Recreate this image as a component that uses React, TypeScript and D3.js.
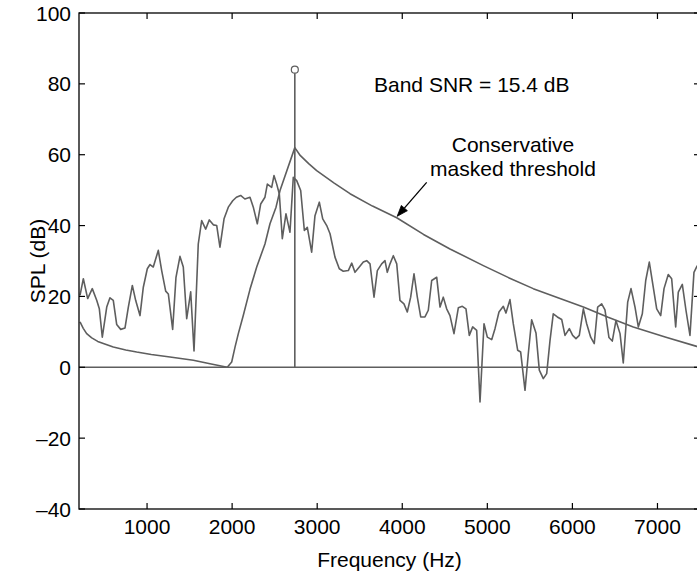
import React from 'react';
import * as d3 from 'd3';

const signalHz = [212,251,302,356,408,439,474,526,564,603,643,690,741,780,827,866,917,956,1003,1035,1073,1132,1172,1219,1250,1301,1340,1387,1426,1466,1513,1552,1602,1642,1689,1732,1779,1819,1857,1905,1955,2007,2050,2100,2150,2210,2249,2296,2336,2386,2414,2465,2492,2524,2555,2590,2633,2680,2719,2759,2806,2849,2884,2935,2974,3025,3065,3112,3151,3209,3260,3307,3366,3406,3444,3495,3542,3582,3621,3668,3707,3758,3797,3824,3856,3895,3935,3973,4020,4059,4099,4138,4177,4217,4267,4306,4346,4405,4444,4482,4522,4561,4608,4659,4706,4749,4788,4828,4875,4914,4961,5000,5051,5090,5137,5188,5219,5266,5305,5357,5392,5443,5482,5521,5572,5611,5658,5698,5737,5775,5823,5874,5913,5964,6003,6042,6081,6129,6168,6215,6257,6297,6344,6383,6430,6469,6512,6560,6598,6650,6689,6736,6775,6822,6862,6904,6944,6991,7038,7077,7127,7167,7214,7245,7292,7335,7382,7429,7468];
const signalDb = [20.3,25,19.4,22.2,18.9,16.5,8.5,17,19.6,18.9,12.1,10.7,11.1,17,23.1,18.9,14.6,22.6,27.8,29,28.3,33,27.3,21.5,20.7,10.7,25.4,31.3,28.3,13.7,21.3,4.6,34.8,41.4,39,41.6,40.2,40,33.9,41.9,45.2,47,48,48.5,47.5,48,45.2,40.5,46.1,48,51.7,50.8,54.1,51.7,48.9,36.3,43.3,38.1,53.6,52.7,49.9,38.6,39.5,32.5,42.8,46.6,41.9,40,37.7,31.1,27.8,27.1,27.3,29.4,26.8,28.3,29.7,30.1,29.2,19.8,27.3,29.2,30.1,26.8,29.2,31.5,29.2,18.9,17.9,15.6,19.8,26.4,19.8,14.2,14.2,16.1,24.5,25.4,17,19.8,16.5,14.6,9.5,16.8,17.2,16.5,9,11.4,10.4,-9.8,12.3,8.5,7.8,10.9,15.6,17.2,15.3,19.1,12.3,4.8,4.3,-6.5,3.9,13.4,9.7,-0.8,-3.2,-1.8,7.6,15.1,14.2,13.5,9,10.9,9,8.1,9,16.5,12.3,8.5,6.7,17,17.9,16.2,8.4,7.4,13.2,9.5,1.2,18.4,22.2,17,11.4,15.1,24.5,29.7,23.6,16.5,14.6,22.2,26.2,25,11.4,21.2,23.4,16.1,9,26.8,28.7];

const thresholdHz = [212,250,290,350,420,486,603,750,878,1050,1270,1544,1740,1943,1995,2034,2073,2131,2210,2289,2386,2445,2516,2563,2737,2800,2900,2994,3200,3386,3650,3935,4250,4561,4953,5250,5540,5830,6129,6420,6716,7100,7461,7520];
const thresholdDb = [12.8,11,9.5,8.3,7.3,6.7,5.7,4.9,4.3,3.6,2.9,2,1,0,1.5,5.7,9.5,14.6,22,28.3,34.8,40.5,45.2,49.9,62,59.8,57.5,55.5,52,49,45.5,42.2,37.5,33.4,28.7,25.3,22.2,19.6,17,14.1,11.4,8.5,5.9,5.5];

const toneHz = 2737;
const toneDb = 84;

const xTicks = [1000, 2000, 3000, 4000, 5000, 6000, 7000];
const yTicks = [-40, -20, 0, 20, 40, 60, 80, 100];
const xDomain = [200, 7500];
const yDomain = [-40, 100];

const snrLabel = 'Band SNR = 15.4 dB';
const thrLabel1 = 'Conservative';
const thrLabel2 = 'masked threshold';
const xLabel = 'Frequency (Hz)';
const yLabel = 'SPL (dB)';

export default function App() {
  const W = 697, H = 575;
  const left = 79, right = 700, top = 13, bottom = 509;
  const x = d3.scaleLinear().domain(xDomain).range([left, right]);
  const y = d3.scaleLinear().domain(yDomain).range([bottom, top]);
  const line = d3.line<[number, number]>().x(d => x(d[0])).y(d => y(d[1]));
  const sig = line(signalHz.map((f, i) => [f, signalDb[i]] as [number, number])) || '';
  const thr = line(thresholdHz.map((f, i) => [f, thresholdDb[i]] as [number, number])) || '';
  const gray = '#5e5e5e';
  const font = "'Liberation Sans', Arial, Helvetica, sans-serif";
  const fs = 21;
  const tl = 6;

  // arrow annotation (data coordinates)
  const ax1 = x(4287), ay1 = y(52.2);
  const ax2 = x(3940), ay2 = y(42.6);
  const ang = Math.atan2(ay2 - ay1, ax2 - ax1);
  const hl = 11, hw = 4;
  const bx = ax2 - hl * Math.cos(ang), by = ay2 - hl * Math.sin(ang);
  const head = `M${ax2},${ay2} L${bx + hw * Math.sin(ang)},${by - hw * Math.cos(ang)} L${bx - hw * Math.sin(ang)},${by + hw * Math.cos(ang)} Z`;

  return (
    <svg width={W} height={H} style={{ position: 'absolute', left: 0, top: 0, background: '#fff' }} fontFamily={font}>
      <defs>
        <clipPath id="plotclip">
          <rect x={left} y={top} width={right - left} height={bottom - top} />
        </clipPath>
      </defs>
      <rect x={0} y={0} width={W} height={H} fill="#fff" />
      <g clipPath="url(#plotclip)" fill="none" stroke={gray} strokeWidth={1.6} strokeLinejoin="round">
        <line x1={left} x2={right} y1={y(0)} y2={y(0)} />
        <path d={sig} />
        <path d={thr} />
        <line x1={x(toneHz)} x2={x(toneHz)} y1={y(0)} y2={y(toneDb) + 3.5} />
        <circle cx={x(toneHz)} cy={y(toneDb)} r={3.5} strokeWidth={1.2} />
      </g>
      {/* axes box */}
      <rect x={left} y={top} width={right - left} height={bottom - top} fill="none" stroke="#000" strokeWidth={1.3} />
      {xTicks.map(t => (
        <g key={'x' + t}>
          <line x1={x(t)} x2={x(t)} y1={bottom} y2={bottom - tl} stroke="#000" strokeWidth={1.2} />
          <line x1={x(t)} x2={x(t)} y1={top} y2={top + tl} stroke="#000" strokeWidth={1.2} />
          <text x={x(t)} y={534} textAnchor="middle" fontSize={fs} fill="#000">{t}</text>
        </g>
      ))}
      {yTicks.map(t => (
        <g key={'y' + t}>
          <line x1={left} x2={left + tl} y1={y(t)} y2={y(t)} stroke="#000" strokeWidth={1.2} />
          <line x1={right} x2={right - tl} y1={y(t)} y2={y(t)} stroke="#000" strokeWidth={1.2} />
          <text x={71} y={y(t)} dy="0.36em" textAnchor="end" fontSize={fs} fill="#000">{t < 0 ? '\u2013' + Math.abs(t) : String(t)}</text>
        </g>
      ))}
      <text x={(left + right) / 2} y={567} textAnchor="middle" fontSize={fs} fill="#000">{xLabel}</text>
      <text transform={`translate(45,${(top + bottom) / 2}) rotate(-90)`} textAnchor="middle" fontSize={fs} fill="#000">{yLabel}</text>
      <text x={374} y={92} fontSize={fs} fill="#000">{snrLabel}</text>
      <text x={513} y={152} textAnchor="middle" fontSize={fs} fill="#000">{thrLabel1}</text>
      <text x={513} y={176} textAnchor="middle" fontSize={fs} fill="#000">{thrLabel2}</text>
      <line x1={ax1} y1={ay1} x2={bx} y2={by} stroke="#000" strokeWidth={1.3} />
      <path d={head} fill="#000" stroke="#000" strokeWidth={0.8} />
    </svg>
  );
}
